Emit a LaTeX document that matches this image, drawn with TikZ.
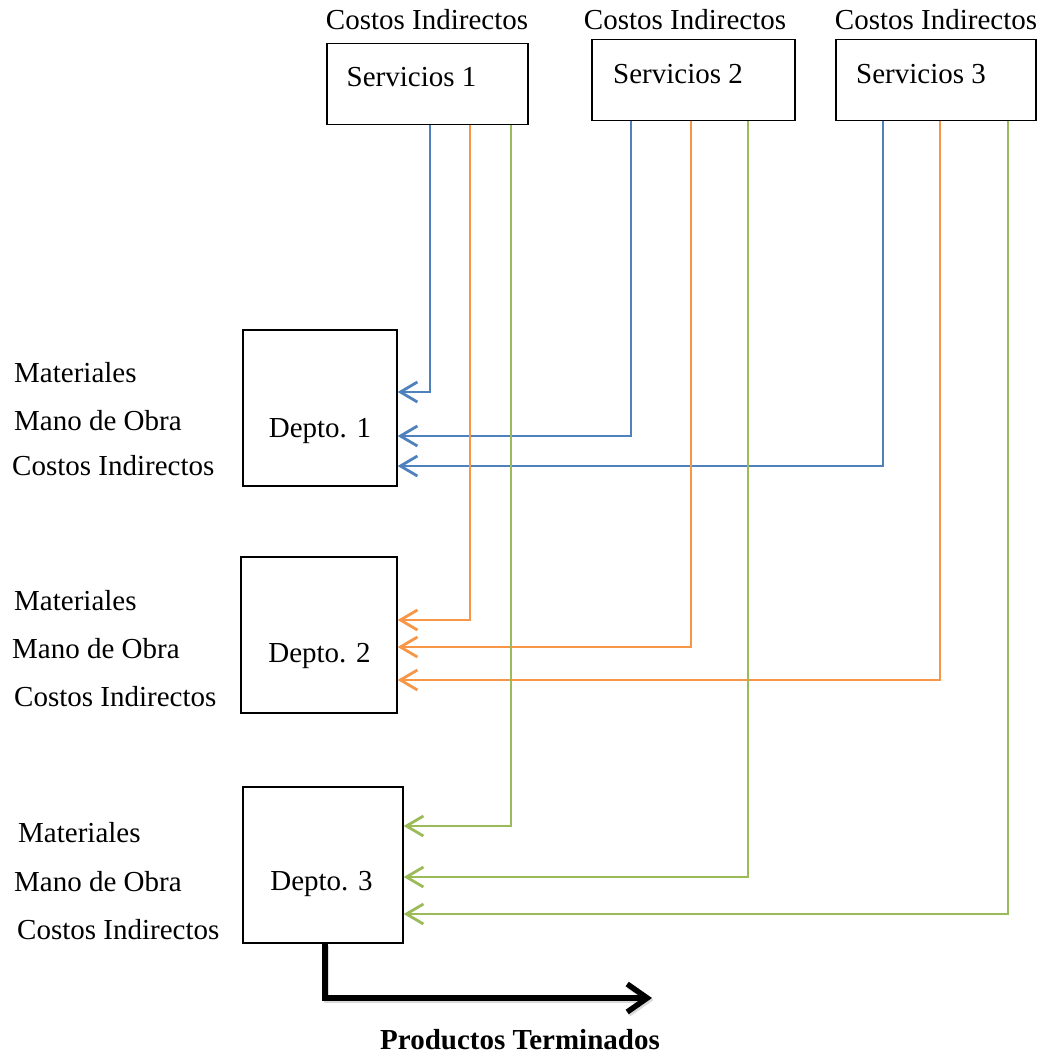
\documentclass[tikz,border=0pt]{standalone}
\usepackage{fontspec}
\setmainfont{Liberation Serif}
\usetikzlibrary{arrows.meta}

\definecolor{flowblue}{HTML}{4F81BD}
\definecolor{floworange}{HTML}{F79646}
\definecolor{flowgreen}{HTML}{9BBB59}

\begin{document}
\begin{tikzpicture}[x=1pt,y=-1pt]
		\tikzstyle{every node}=[font=\fontsize{29}{34}\selectfont]
		\useasboundingbox (0,0) rectangle (1046,1054);
		
		\tikzstyle{box}=[draw,line width=1.3pt,inner sep=0pt]
		\tikzstyle{servbox}=[box,minimum height=81pt]
		\tikzstyle{deptbox}=[box,minimum height=156pt]
		\tikzstyle{txt}=[anchor=base,inner sep=0pt]
		\tikzstyle{lefttxt}=[anchor=base west,inner sep=0pt]
		\tikzstyle{flow}=[line width=2.8pt,-{Straight Barb[length=17pt,width=20pt]}]
		\tikzstyle{prod}=[line width=5.5pt,-{Straight Barb[length=20pt,width=28pt]}]
		
		%% Service departments
		\node [servbox,minimum width=201pt] (s1) at (427.5,84) {};
		\node [servbox,minimum width=203pt] (s2) at (693.5,80) {};
		\node [servbox,minimum width=200pt] (s3) at (936,80) {};
		
		\node [txt] (s1txt) at (411.5,87) {Servicios 1};
		\node [txt] (s2txt) at (678,84) {Servicios 2};
		\node [txt] (s3txt) at (921,84) {Servicios 3};
		
		\node [txt] (s1ci) at (427,30) {Costos Indirectos};
		\node [txt] (s2ci) at (685,30) {Costos Indirectos};
		\node [txt] (s3ci) at (936,30) {Costos Indirectos};
		
		%% Production departments
		\node [deptbox,minimum width=154pt] (d1) at (320,408) {};
		\node [deptbox,minimum width=156pt] (d2) at (319,635) {};
		\node [deptbox,minimum width=160pt] (d3) at (323,865) {};
		
		\node [txt] (d1txt) at (320,437) {Depto. 1};
		\node [txt] (d2txt) at (319.5,662) {Depto. 2};
		\node [txt] (d3txt) at (321.5,890) {Depto. 3};
		
		\node [lefttxt] (m1) at (14,382) {Materiales};
		\node [lefttxt] (o1) at (14,430) {Mano de Obra};
		\node [lefttxt] (c1) at (12,475) {Costos Indirectos};
		
		\node [lefttxt] (m2) at (14,610) {Materiales};
		\node [lefttxt] (o2) at (12,658) {Mano de Obra};
		\node [lefttxt] (c2) at (14,706) {Costos Indirectos};
		
		\node [lefttxt] (m3) at (18,842) {Materiales};
		\node [lefttxt] (o3) at (14,891) {Mano de Obra};
		\node [lefttxt] (c3) at (17,939) {Costos Indirectos};
		
		%% Allocation lines
		\draw [flow,flowblue] ([xshift=2.5pt]s1.south) |- ([yshift=16pt]d1.east);
		\draw [flow,flowblue] ([xshift=-62.5pt]s2.south) |- ([yshift=-28pt]d1.east);
		\draw [flow,flowblue] ([xshift=-53pt]s3.south) |- ([yshift=-58pt]d1.east);
		
		\draw [flow,floworange] ([xshift=42.5pt]s1.south) |- ([yshift=15pt]d2.east);
		\draw [flow,floworange] ([xshift=-2.5pt]s2.south) |- ([yshift=-12pt]d2.east);
		\draw [flow,floworange] ([xshift=4pt]s3.south) |- ([yshift=-45pt]d2.east);
		
		\draw [flow,flowgreen] ([xshift=83.5pt]s1.south) |- ([yshift=39pt]d3.east);
		\draw [flow,flowgreen] ([xshift=54.5pt]s2.south) |- ([yshift=-12pt]d3.east);
		\draw [flow,flowgreen] ([xshift=72pt]s3.south) |- ([yshift=-49pt]d3.east);
		
		%% Finished goods
		\coordinate (pt) at (652,998);
		\draw [prod,black!25,opacity=0.6,transform canvas={xshift=1.5pt,yshift=-2pt}] ([xshift=2pt]d3.south) |- (pt);
		\draw [prod] ([xshift=2pt]d3.south) |- (pt);
		\node [txt,font=\fontsize{29}{34}\selectfont\bfseries] (ptxt) at (520,1049) {Productos Terminados};
		
\end{tikzpicture}
\end{document}
